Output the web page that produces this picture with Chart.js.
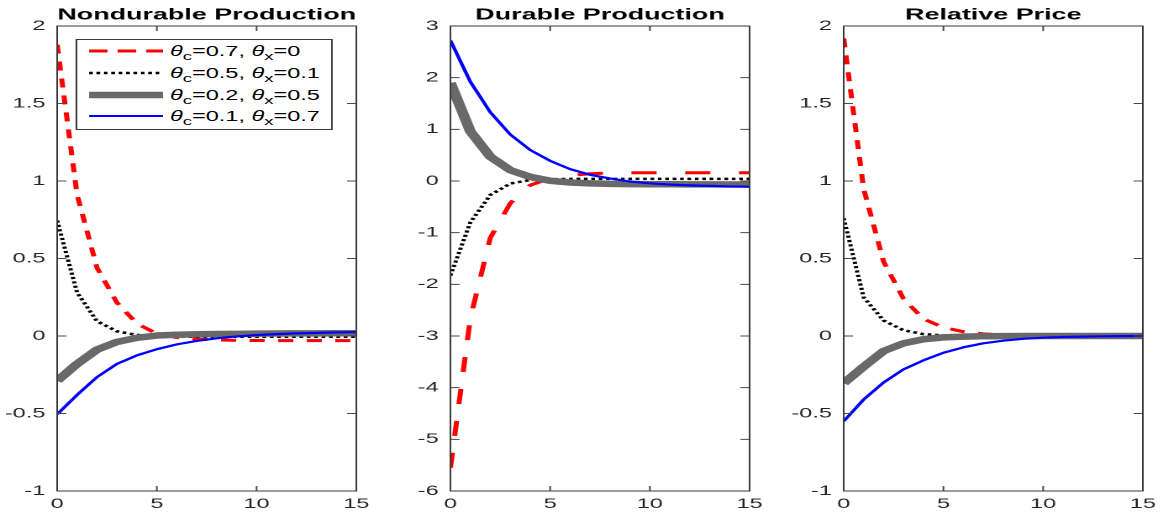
<!DOCTYPE html>
<html><head><meta charset="utf-8">
<script src="https://cdn.jsdelivr.net/npm/chart.js@4.4.1/dist/chart.umd.min.js"></script>
<style>
html,body{margin:0;padding:0;background:#fff;overflow:hidden;width:1163px;height:517px;}
#wrap{position:absolute;left:0;top:0;width:692px;height:517px;transform:scaleX(1.680636);transform-origin:0 0;}
#wrap canvas{position:absolute;top:0;}
#legend{position:absolute;left:44.6px;top:39px;width:153.5px;height:91px;border:1px solid #3a3a3a;background:#fff;box-sizing:border-box;font-family:'Liberation Sans',Arial,Helvetica,sans-serif;font-size:14px;color:#000;}
.row{position:absolute;left:0;width:150px;height:20px;}
.row svg{position:absolute;left:7.5px;top:5px;}
.row span{position:absolute;left:55.5px;top:2px;white-space:nowrap;line-height:16px;}
.row i{font-style:italic;}
.row sub{font-size:11px;vertical-align:-4px;line-height:0;}
</style>
</head><body>
<div id="wrap">
<canvas id="c1" width="246" height="517" style="left:0px"></canvas>
<canvas id="c2" width="246" height="517" style="left:234px"></canvas>
<canvas id="c3" width="246" height="517" style="left:468px"></canvas>
<div id="legend"></div>
</div>
<script>
// ---------- data ----------
const periods = [0,1,2,3,4,5,6,7,8,9,10,11,12,13,14,15];
const xTicks = [0,5,10,15];
const yTicksA = [-1,-0.5,0,0.5,1,1.5,2];
const yTicksB = [-6,-5,-4,-3,-2,-1,0,1,2,3];
const titles = ['Nondurable Production','Durable Production','Relative Price'];
const seriesNames = ['θc=0.7, θx=0','θc=0.5, θx=0.1','θc=0.2, θx=0.5','θc=0.1, θx=0.7'];
const legendHtml = [
  '<i>θ</i><sub>c</sub>=0.7, <i>θ</i><sub>x</sub>=0',
  '<i>θ</i><sub>c</sub>=0.5, <i>θ</i><sub>x</sub>=0.1',
  '<i>θ</i><sub>c</sub>=0.2, <i>θ</i><sub>x</sub>=0.5',
  '<i>θ</i><sub>c</sub>=0.1, <i>θ</i><sub>x</sub>=0.7'
];

// Nondurable production
const ndRed   = [1.88,0.91,0.44,0.215,0.08,0.015,-0.01,-0.02,-0.025,-0.028,-0.029,-0.03,-0.03,-0.03,-0.03,-0.03];
const ndBlack = [0.745,0.28,0.095,0.03,0.007,-0.002,-0.004,-0.005,-0.005,-0.005,-0.005,-0.005,-0.005,-0.005,-0.005,-0.005];
const ndGray  = [-0.29,-0.18,-0.088,-0.038,-0.012,0.003,0.008,0.011,0.013,0.014,0.015,0.016,0.017,0.017,0.018,0.018];
const ndBlue  = [-0.505,-0.38,-0.265,-0.18,-0.125,-0.085,-0.054,-0.032,-0.015,-0.003,0.006,0.012,0.017,0.02,0.023,0.025];
// Durable production
const dRed   = [-5.55,-2.65,-1.1,-0.43,-0.08,0.05,0.11,0.14,0.155,0.16,0.16,0.16,0.16,0.16,0.16,0.16];
const dBlack = [-1.83,-0.8,-0.27,-0.05,0.02,0.035,0.04,0.04,0.04,0.04,0.04,0.04,0.04,0.04,0.04,0.04];
const dGray  = [1.9,0.96,0.47,0.21,0.08,0.005,-0.03,-0.045,-0.055,-0.06,-0.062,-0.064,-0.065,-0.066,-0.067,-0.068];
const dBlue  = [2.72,1.92,1.33,0.9,0.6,0.39,0.23,0.12,0.05,-0.01,-0.045,-0.07,-0.085,-0.095,-0.105,-0.11];
// Relative price
const rpRed   = [1.92,0.95,0.48,0.24,0.11,0.055,0.028,0.014,0.006,0.003,0.001,0,0,0,0,0];
const rpBlack = [0.76,0.25,0.1,0.037,0.012,0.004,0.001,0,0,0,0,0,0,0,0,0];
const rpGray  = [-0.305,-0.198,-0.097,-0.047,-0.021,-0.009,-0.004,-0.002,-0.001,0,0,0,0,0,0,0];
const rpBlue  = [-0.55,-0.41,-0.30,-0.215,-0.157,-0.108,-0.073,-0.047,-0.03,-0.018,-0.011,-0.006,-0.004,-0.002,-0.001,0];

// ---------- styles ----------
const FONT = "'Liberation Sans', Arial, Helvetica, sans-serif";
const styles = [
  {color:'#ff0000', width:3,   dash:[9,8],  order:4},
  {color:'#000000', width:2.5, dash:[2.2,2.2], order:3},
  {color:'#696969', width:6.5, dash:[],     order:2},
  {color:'#0000ff', width:2.2, dash:[],     order:1}
];

const boxPlugin = {
  id:'box',
  afterDatasetsDraw(chart){
    const {ctx, chartArea:a, scales} = chart;
    ctx.save();
    ctx.strokeStyle = '#4a4a4a';
    ctx.lineWidth = 1;
    ctx.beginPath();
    xTicks.forEach(v=>{
      const px = scales.x.getPixelForValue(v);
      ctx.moveTo(px, a.bottom); ctx.lineTo(px, a.bottom-5);
      ctx.moveTo(px, a.top); ctx.lineTo(px, a.top+5);
    });
    scales.y.ticks.forEach(t=>{
      const py = scales.y.getPixelForValue(t.value);
      ctx.moveTo(a.left, py); ctx.lineTo(a.left+5.5, py);
      ctx.moveTo(a.right, py); ctx.lineTo(a.right-5.5, py);
    });
    ctx.stroke();
    ctx.strokeStyle = '#3a3a3a';
    ctx.strokeRect(a.left, a.top, a.right-a.left, a.bottom-a.top);
    ctx.restore();
  }
};

function makeChart(id, title, seriesList, yMin, yMax, yTicks, redDash){
  const datasets = seriesList.map((vals,i)=>({
    label: seriesNames[i],
    data: periods.map((p,k)=>({x:p, y:vals[k]})),
    borderColor: styles[i].color,
    backgroundColor: styles[i].color,
    borderWidth: styles[i].width,
    borderDash: i===0 ? redDash : styles[i].dash,
    borderCapStyle: 'butt',
    borderJoinStyle: 'round',
    pointRadius: 0,
    tension: 0,
    fill: false,
    order: styles[i].order
  }));
  return new Chart(document.getElementById(id), {
    type:'line',
    data:{datasets},
    options:{
      responsive:false, animation:false, devicePixelRatio:2,
      layout:{padding:0},
      plugins:{
        legend:{display:false}, tooltip:{enabled:false},
        title:{display:true, text:title, color:'#000',
          font:{family:FONT, size:16, weight:'bold', lineHeight:1.2},
          padding:{top:5.6, bottom:1.2}}
      },
      scales:{
        x:{type:'linear', min:0, max:15,
          afterBuildTicks:s=>{s.ticks = xTicks.map(v=>({value:v}));},
          afterFit:s=>{s.height=26; s.paddingLeft=0; s.paddingRight=0;},
          grid:{display:false, drawTicks:false}, border:{display:false},
          ticks:{color:'#262626', font:{family:FONT,size:14}, padding:4.5, maxRotation:0, autoSkip:false}},
        y:{type:'linear', position:'left', min:yMin, max:yMax,
          afterBuildTicks:s=>{s.ticks = yTicks.map(v=>({value:v}));},
          afterFit:s=>{s.width=34; s.paddingTop=0; s.paddingBottom=0;},
          grid:{display:false, drawTicks:false}, border:{display:false},
          ticks:{color:'#262626', font:{family:FONT,size:14}, padding:7, autoSkip:false,
            callback:v=>String(v)}},
        yR:{type:'linear', position:'right', min:yMin, max:yMax, display:true,
          afterFit:s=>{s.width=34; s.paddingTop=0; s.paddingBottom=0;},
          grid:{display:false, drawTicks:false}, border:{display:false},
          ticks:{display:false}}
      }
    },
    plugins:[boxPlugin]
  });
}

makeChart('c1', titles[0], [ndRed,ndBlack,ndGray,ndBlue], -1, 2, yTicksA, [9,8]);
makeChart('c2', titles[1], [dRed,dBlack,dGray,dBlue], -6, 3, yTicksB, [15,17]);
makeChart('c3', titles[2], [rpRed,rpBlack,rpGray,rpBlue], -1, 2, yTicksA, [9,8]);

// ---------- legend (HTML, for subscripts) ----------
const rowCenters = [11, 32.5, 54.5, 76];
const legend = document.getElementById('legend');
legendHtml.forEach((h,i)=>{
  const st = styles[i];
  const row = document.createElement('div');
  row.className='row';
  row.style.top = (rowCenters[i]-10)+'px';
  const dashAttr = i===0 ? 'stroke-dasharray="11 6"' : (i===1 ? 'stroke-dasharray="2.2 2.2"' : '');
  row.innerHTML = '<svg width="44" height="10"><line x1="0" y1="5" x2="44" y2="5" stroke="'+st.color+'" stroke-width="'+st.width+'" '+dashAttr+'/></svg><span>'+h+'</span>';
  legend.appendChild(row);
});
</script>
</body></html>
